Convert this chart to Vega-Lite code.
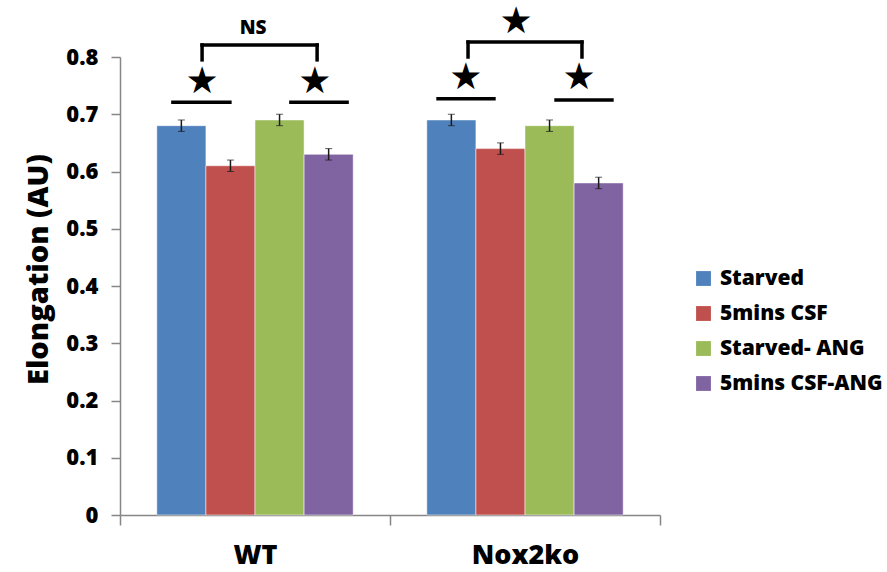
{
  "$schema": "https://vega.github.io/schema/vega-lite/v6.json",
  "width": 540,
  "height": 458,
  "autosize": "none",
  "padding": {"left": 120, "top": 57, "right": 227, "bottom": 57},
  "background": "white",
  "config": {"font": "Open Sans", "view": {"stroke": null}},
  "datasets": {
    "bars": [
      {"group": "WT", "condition": "Starved", "value": 0.68, "err": 0.01},
      {"group": "WT", "condition": "5mins CSF", "value": 0.61, "err": 0.01},
      {"group": "WT", "condition": "Starved- ANG", "value": 0.69, "err": 0.01},
      {"group": "WT", "condition": "5mins CSF-ANG", "value": 0.63, "err": 0.01},
      {"group": "Nox2ko", "condition": "Starved", "value": 0.69, "err": 0.01},
      {"group": "Nox2ko", "condition": "5mins CSF", "value": 0.64, "err": 0.01},
      {"group": "Nox2ko", "condition": "Starved- ANG", "value": 0.68, "err": 0.01},
      {"group": "Nox2ko", "condition": "5mins CSF-ANG", "value": 0.58, "err": 0.01}
    ],
    "lines": [
      {"x": 0.196, "x2": 0.407, "y": 0.721, "y2": 0.721},
      {"x": 0.633, "x2": 0.841, "y": 0.721, "y2": 0.721},
      {"x": 0.304, "x2": 0.730, "y": 0.821, "y2": 0.821},
      {"x": 0.304, "x2": 0.304, "y": 0.821, "y2": 0.795},
      {"x": 0.730, "x2": 0.730, "y": 0.821, "y2": 0.795},
      {"x": 1.178, "x2": 1.385, "y": 0.727, "y2": 0.727},
      {"x": 1.615, "x2": 1.822, "y": 0.725, "y2": 0.725},
      {"x": 1.289, "x2": 1.711, "y": 0.826, "y2": 0.826},
      {"x": 1.289, "x2": 1.289, "y": 0.826, "y2": 0.800},
      {"x": 1.711, "x2": 1.711, "y": 0.826, "y2": 0.800}
    ],
    "stars": [
      {"x": 0.304, "y": 0.756, "label": "★"},
      {"x": 0.722, "y": 0.756, "label": "★"},
      {"x": 1.281, "y": 0.763, "label": "★"},
      {"x": 1.700, "y": 0.763, "label": "★"},
      {"x": 1.467, "y": 0.861, "label": "★"}
    ],
    "notes": [
      {"x": 0.493, "y": 0.851, "label": "NS"}
    ]
  },
  "layer": [
    {
      "data": {"name": "bars"},
      "encoding": {
        "x": {
          "field": "group", "type": "nominal", "sort": ["WT", "Nox2ko"],
          "scale": {"paddingInner": 0, "paddingOuter": 0},
          "axis": {
            "title": null, "tickBand": "extent", "labelAngle": 0,
            "labelFontSize": 27, "labelFontWeight": 800, "labelColor": "black",
            "domainColor": "#868686", "tickColor": "#868686", "tickSize": 10,
            "domainWidth": 1.5, "tickWidth": 1.5, "labelPadding": 17
          }
        },
        "xOffset": {
          "field": "condition", "type": "nominal",
          "sort": ["Starved", "5mins CSF", "Starved- ANG", "5mins CSF-ANG"],
          "scale": {"paddingInner": 0, "paddingOuter": 0.75}
        },
        "y": {
          "field": "value", "type": "quantitative", "title": "Elongation (AU)",
          "scale": {"domain": [0, 0.8], "nice": false},
          "axis": {
            "values": [0, 0.1, 0.2, 0.3, 0.4, 0.5, 0.6, 0.7, 0.8],
            "labelExpr": "datum.value == 0 ? '0' : format(datum.value, '.1f')",
            "grid": false, "labelFontSize": 22, "labelFontWeight": 800,
            "labelColor": "black", "domainColor": "#868686", "tickColor": "#868686",
            "tickSize": 9, "domainWidth": 1.5, "tickWidth": 1.5, "labelPadding": 13,
            "titleFontSize": 29, "titleFontWeight": 800, "titleColor": "black",
            "titlePadding": 12, "titleY": 212
          }
        }
      },
      "layer": [
        {
          "mark": {"type": "bar", "stroke": "white", "strokeWidth": 0.5},
          "encoding": {
            "color": {
              "field": "condition", "type": "nominal",
              "scale": {
                "domain": ["Starved", "5mins CSF", "Starved- ANG", "5mins CSF-ANG"],
                "range": ["#4F81BD", "#C0504D", "#9BBB59", "#8064A2"]
              },
              "legend": {
                "title": null, "orient": "none", "legendX": 573, "legendY": 211,
                "symbolType": "square", "symbolSize": 220, "symbolStrokeWidth": 0,
                "labelFontSize": 21, "labelFontWeight": 800, "labelColor": "black",
                "labelLimit": 300,
                "rowPadding": 13, "labelOffset": 6, "padding": 0
              }
            }
          }
        },
        {
          "mark": {"type": "errorbar", "ticks": {"size": 7, "color": "#1a1a1a", "strokeWidth": 1.5}, "rule": {"color": "#1a1a1a", "strokeWidth": 1.5}},
          "encoding": {
            "yError": {"field": "err"}
          }
        }
      ]
    },
    {
      "layer": [
        {
          "data": {"name": "lines"},
          "mark": {"type": "rule", "color": "black", "strokeWidth": 3.5, "clip": false, "strokeCap": "square"},
          "encoding": {
            "x": {"field": "x", "type": "quantitative", "scale": {"domain": [0, 2], "nice": false, "zero": false}, "axis": null},
            "x2": {"field": "x2"},
            "y": {"field": "y", "type": "quantitative", "title": "Elongation (AU)", "scale": {"domain": [0, 0.8], "nice": false}},
            "y2": {"field": "y2"}
          }
        },
        {
          "data": {"name": "stars"},
          "mark": {"type": "text", "color": "black", "fontSize": 37, "font": "DejaVu Sans", "baseline": "middle", "align": "center", "clip": false},
          "encoding": {
            "x": {"field": "x", "type": "quantitative", "scale": {"domain": [0, 2], "nice": false, "zero": false}, "axis": null},
            "y": {"field": "y", "type": "quantitative", "title": "Elongation (AU)", "scale": {"domain": [0, 0.8], "nice": false}},
            "text": {"field": "label"}
          }
        },
        {
          "data": {"name": "notes"},
          "mark": {"type": "text", "color": "black", "fontSize": 19, "fontWeight": 800, "baseline": "middle", "align": "center", "clip": false},
          "encoding": {
            "x": {"field": "x", "type": "quantitative", "scale": {"domain": [0, 2], "nice": false, "zero": false}, "axis": null},
            "y": {"field": "y", "type": "quantitative", "title": "Elongation (AU)", "scale": {"domain": [0, 0.8], "nice": false}},
            "text": {"field": "label"}
          }
        }
      ]
    }
  ],
  "resolve": {"scale": {"x": "independent"}}
}
